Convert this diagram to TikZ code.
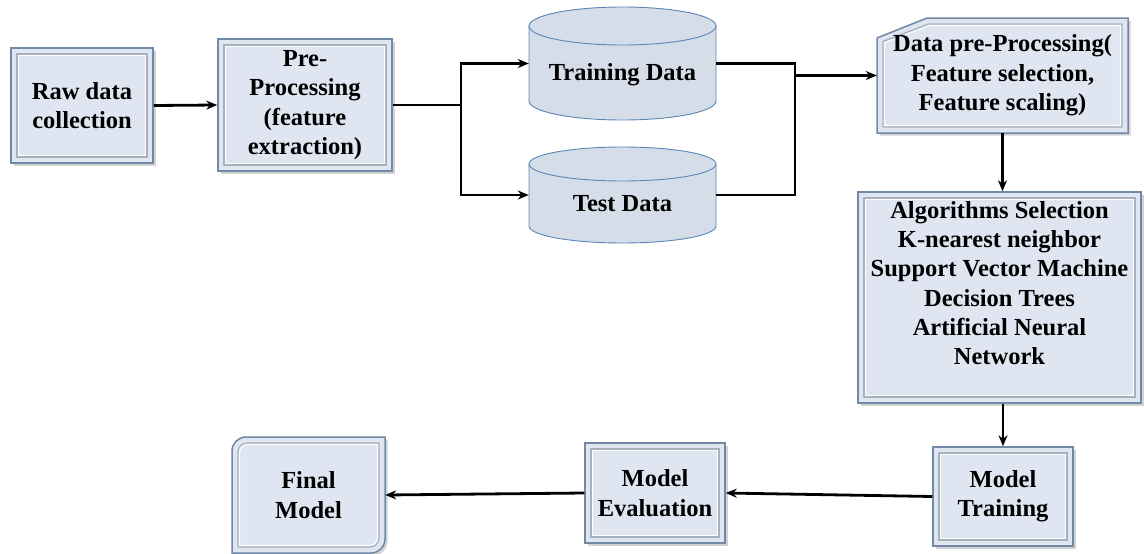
\documentclass[tikz,border=0pt]{standalone}
\usepackage{fontspec}
\setmainfont{Liberation Serif}
\usetikzlibrary{arrows.meta,shadows,calc}

\definecolor{boxfill}{HTML}{DFE6F1}
\definecolor{boxedge}{HTML}{7189A6}
\definecolor{bevel}{HTML}{A7B1BE}
\definecolor{cylfill}{HTML}{D5DDE8}
\definecolor{cyledge}{HTML}{5B86B8}

\pgfdeclarelayer{background}
\pgfsetlayers{background,main}

\tikzset{
  lbl/.style={font=\bfseries\fontsize{24.5}{29.3}\selectfont, align=center, text=black, inner sep=0pt},
  frame/.style={fill=boxfill, draw=boxedge, line width=1.5pt,
    drop shadow={shadow xshift=2.5pt, shadow yshift=-2.5pt, opacity=0.35}},
  innerframe/.style={draw=bevel, line width=1.3pt},
  innerlight/.style={draw=white, line width=0.9pt},
  bevelbox/.style={lbl, rectangle, frame,
    path picture={
      \draw[innerframe] ([shift={(6pt,6pt)}]path picture bounding box.south west)
        rectangle ([shift={(-6pt,-6pt)}]path picture bounding box.north east);
      \draw[innerlight] ([shift={(7.6pt,7.6pt)}]path picture bounding box.south west)
        rectangle ([shift={(-7.6pt,-7.6pt)}]path picture bounding box.north east);
    }},
  body/.style={rectangle, inner sep=0pt},
  cyl/.style={fill=cylfill, draw=cyledge, line width=0.9pt},
  ln/.style={line width=2.8pt, black},
  arr/.style={ln, -{Stealth[length=11pt,width=9pt]}},
}

\begin{document}
\begin{tikzpicture}[x=1pt, y=-1pt]
  \begin{pgfonlayer}{background}
    \fill[white] (0,0) rectangle (1144,554);
  \end{pgfonlayer}
  \useasboundingbox (0,0) rectangle (1144,554);

  % upper row boxes
  \node[bevelbox, minimum width=142, minimum height=115] (raw) at (82,105.5)
    {Raw data\\collection};
  \node[bevelbox, minimum width=174, minimum height=132] (pre) at (305,105)
    {Pre-\\Processing\\(feature\\extraction)};

  % data stores (cylinder bodies, labels set separately)
  \node[body, minimum width=187, minimum height=75] (train) at (622.5,63.5) {};
  \node[body, minimum width=187, minimum height=62] (test) at (622.5,195) {};

  \begin{pgfonlayer}{background}
    \fill[cyl, draw=none] (529,26) -- (529,101)
      arc[start angle=180, end angle=360, x radius=93.5pt, y radius=19pt]
      -- (716,26) arc[start angle=0, end angle=180, x radius=93.5pt, y radius=19pt] -- cycle;
    \draw[cyl, fill=none] (529,26) -- (529,101)
      arc[start angle=180, end angle=360, x radius=93.5pt, y radius=19pt] -- (716,26);
    \draw[cyl] (622.5,26) ellipse[x radius=93.5pt, y radius=19pt];

    \fill[cyl, draw=none] (529,164) -- (529,226)
      arc[start angle=180, end angle=360, x radius=93.5pt, y radius=17pt]
      -- (716,164) arc[start angle=0, end angle=180, x radius=93.5pt, y radius=17pt] -- cycle;
    \draw[cyl, fill=none] (529,164) -- (529,226)
      arc[start angle=180, end angle=360, x radius=93.5pt, y radius=17pt] -- (716,164);
    \draw[cyl] (622.5,164) ellipse[x radius=93.5pt, y radius=17pt];
  \end{pgfonlayer}
  \node[lbl] (traintext) at (622.5,75) {Training Data};
  \node[lbl] (testtext) at (622.5,204) {Test Data};

  % feature processing box with a cut corner
  \node[lbl, minimum width=251, minimum height=115] (dpp) at (1002.5,75.5)
    {Data pre-Processing(\\Feature selection,\\Feature scaling)};
  \begin{pgfonlayer}{background}
    \path[frame] (877,38) -- (927,18) -- (1128,18) -- (1128,133) -- (877,133) -- cycle;
    \draw[innerframe] (883,41.5) -- (928.5,24) -- (1122,24) -- (1122,127) -- (883,127) -- cycle;
    \draw[innerlight] (884.6,42.6) -- (929,25.6) -- (1120.4,25.6) -- (1120.4,125.4) -- (884.6,125.4) -- cycle;
  \end{pgfonlayer}

  \node[bevelbox, minimum width=283, minimum height=211] (alg) at (999.5,297.5)
    {Algorithms Selection\\K-nearest neighbor\\Support Vector Machine\\Decision Trees\\Artificial Neural\\Network\\\mbox{}};

  % lower row
  \node[bevelbox, minimum width=140, minimum height=99] (train2) at (1003,496.5)
    {Model\\Training};
  \node[bevelbox, minimum width=140, minimum height=100] (eval) at (655,493)
    {Model\\Evaluation};

  \node[lbl, minimum width=153, minimum height=116] (final) at (308.5,495)
    {Final\\Model};
  \begin{pgfonlayer}{background}
    \path[frame] (232,451) arc[start angle=180, end angle=90, radius=14pt]
      -- (385,437) -- (385,539) arc[start angle=0, end angle=-90, radius=14pt]
      -- (232,553) -- cycle;
    \draw[innerframe] (238,452) arc[start angle=180, end angle=90, radius=9pt]
      -- (379,443) -- (379,538) arc[start angle=0, end angle=-90, radius=9pt]
      -- (238,547) -- cycle;
    \draw[innerlight] (239.6,452) arc[start angle=180, end angle=90, radius=7.4pt]
      -- (377.4,444.6) -- (377.4,538) arc[start angle=0, end angle=-90, radius=7.4pt]
      -- (239.6,545.4) -- cycle;
  \end{pgfonlayer}

  % connectors
  \coordinate (split) at (461,105);
  \coordinate (join) at (795,75.5);
  \draw[arr] (raw.east) -- (pre.west);
  \draw[ln] (pre.east) -- (split);
  \draw[arr] (split) |- (train.west);
  \draw[arr] (split) |- (test.west);
  \draw[ln] (train.east) -| (join);
  \draw[ln] (test.east) -| (join);
  \draw[arr] (join) -- (dpp.west);
  \draw[arr] (dpp.south) -- (dpp.south |- alg.north);
  \draw[arr] (alg.south -| train2.north) -- (train2.north);
  \draw[arr] (train2.west) -- (eval.east);
  \draw[arr] (eval.west) -- (final.east);
\end{tikzpicture}
\end{document}
